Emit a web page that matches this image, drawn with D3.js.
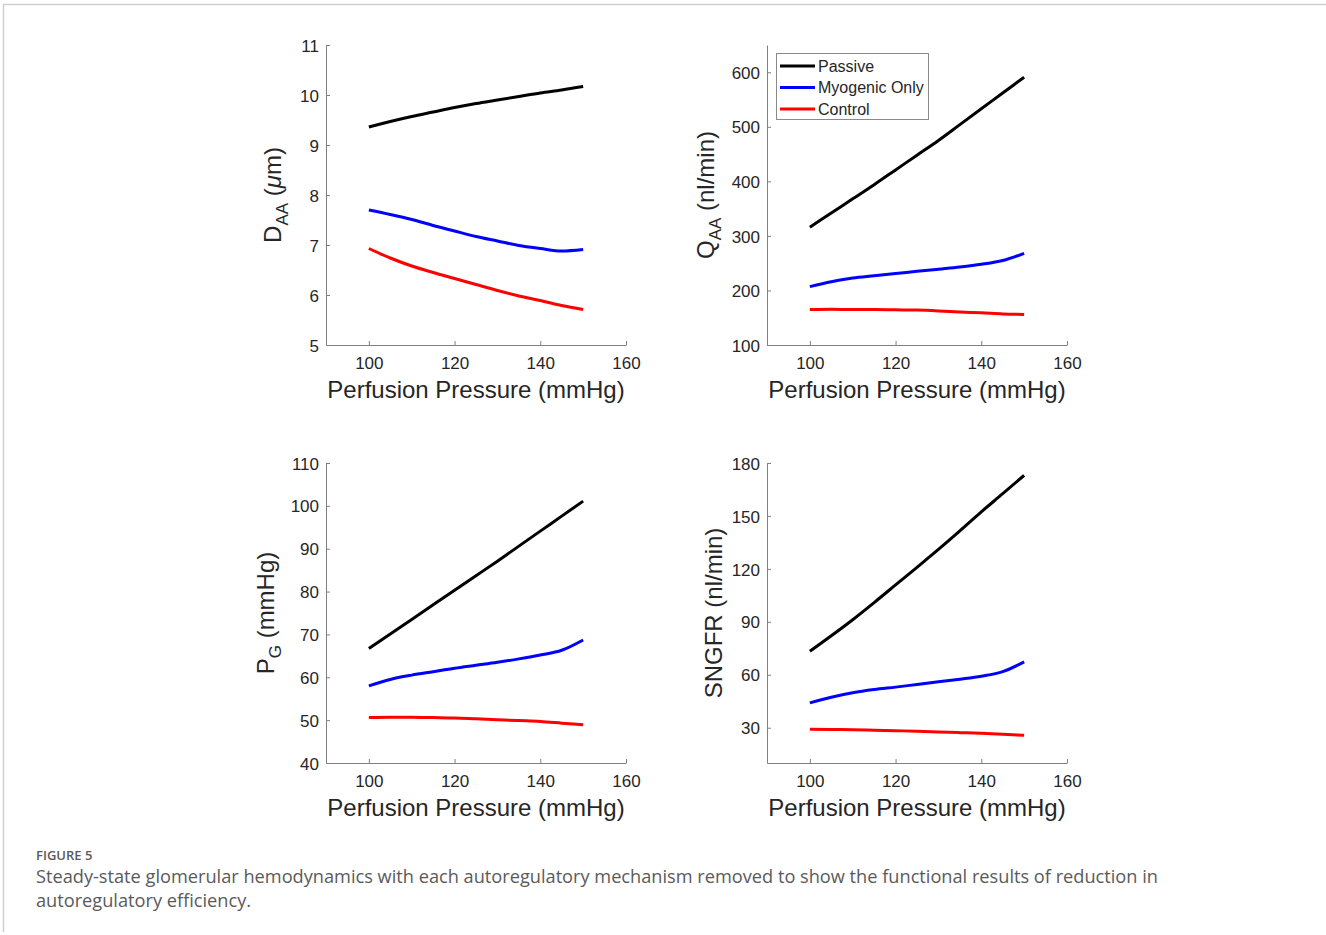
<!DOCTYPE html>
<html>
<head>
<meta charset="utf-8">
<script src="https://cdn.jsdelivr.net/npm/d3@7"></script>
<style>
    body { margin: 0; background: #fff; }
    svg { display: block; }
</style>
</head>
<body>
<div id="figure"></div>
<script>
(function () {
    // perfusion pressure (mmHg), shared x values
    var pressure = [100, 105, 110, 115, 120, 125, 130, 135, 140, 145, 150];

    var series_names = ["Passive", "Myogenic Only", "Control"];
    var series_colors = ["#000000", "#0000ff", "#ff0000"];

    // D_AA (um)
    var daa_passive = [9.36, 9.47, 9.57, 9.66, 9.75, 9.83, 9.90, 9.97, 10.04, 10.10, 10.17];
    var daa_myogenic = [7.70, 7.61, 7.51, 7.39, 7.28, 7.17, 7.08, 6.99, 6.93, 6.88, 6.91];
    var daa_control = [6.93, 6.74, 6.58, 6.45, 6.33, 6.21, 6.09, 5.98, 5.89, 5.79, 5.71];

    // Q_AA (nl/min)
    var qaa_passive = [316, 342, 368, 394, 421, 448, 475, 504, 533, 562, 591];
    var qaa_myogenic = [207, 216, 223, 227, 231, 235, 239, 243, 248, 255, 268];
    var qaa_control = [165, 165.5, 165, 165, 164.5, 164, 162.5, 160.5, 159, 157, 156];

    // P_G (mmHg)
    var pg_passive = [66.7, 70.1, 73.5, 76.9, 80.3, 83.7, 87.1, 90.6, 94.1, 97.6, 101.1];
    var pg_myogenic = [58.0, 59.5, 60.5, 61.3, 62.1, 62.8, 63.5, 64.3, 65.2, 66.3, 68.7];
    var pg_control = [50.6, 50.7, 50.7, 50.6, 50.5, 50.3, 50.1, 49.9, 49.7, 49.3, 48.9];

    // SNGFR (nl/min)
    var sngfr_passive = [73.3, 82.1, 91.2, 100.9, 110.9, 120.9, 131.0, 141.5, 152.3, 162.6, 173.0];
    var sngfr_myogenic = [44.1, 47.3, 49.8, 51.6, 53.0, 54.5, 56.0, 57.5, 59.2, 61.8, 67.3];
    var sngfr_control = [29.1, 29.0, 28.9, 28.6, 28.3, 28.0, 27.6, 27.2, 26.8, 26.3, 25.7];

    var x_domain = [90, 160];
    var x_ticks = [100, 120, 140, 160];

    var daa_ticks = [5, 6, 7, 8, 9, 10, 11];
    var qaa_ticks = [100, 200, 300, 400, 500, 600];
    var pg_ticks = [40, 50, 60, 70, 80, 90, 100, 110];
    var sngfr_ticks = [30, 60, 90, 120, 150, 180];

    var x_label = "Perfusion Pressure (mmHg)";
    var caption_title = "FIGURE 5";
    var caption_lines = [
        "Steady-state glomerular hemodynamics with each autoregulatory mechanism removed to show the functional results of reduction in",
        "autoregulatory efficiency."
    ];

    const width = 1326;
    const height = 935;
    const plot_size = 300;
    const font = "'Liberation Sans', Arial, Helvetica, sans-serif";
    const text_color = "#262626";
    const axis_color = "#808080";

    var panels = [
        { left: 326, top: 45, y_domain: [5, 11], y_ticks: daa_ticks,
          values: [daa_passive, daa_myogenic, daa_control],
          label: [["D", ""], ["AA", "sub"], [" (", ""], ["\u03bc", "it"], ["m)", ""]], label_dx: -45 },
        { left: 767, top: 45, y_domain: [100, 650], y_ticks: qaa_ticks,
          values: [qaa_passive, qaa_myogenic, qaa_control],
          label: [["Q", ""], ["AA", "sub"], [" (nl/min)", ""]], label_dx: -53, legend: true },
        { left: 326, top: 463, y_domain: [40, 110], y_ticks: pg_ticks,
          values: [pg_passive, pg_myogenic, pg_control],
          label: [["P", ""], ["G", "sub"], [" (mmHg)", ""]], label_dx: -52 },
        { left: 767, top: 463, y_domain: [10, 180], y_ticks: sngfr_ticks,
          values: [sngfr_passive, sngfr_myogenic, sngfr_control],
          label: [["SNGFR (nl/min)", ""]], label_dx: -45 }
    ];

    var svg = d3.select('#figure').append('svg')
        .attr('width', width)
        .attr('height', height);

    // thin page frame, top and left
    svg.append('line')
        .attr('x1', 3).attr('x2', width)
        .attr('y1', 4.5).attr('y2', 4.5)
        .attr('stroke', '#cfcfcf').attr('stroke-width', 1.5);
    svg.append('line')
        .attr('x1', 3.5).attr('x2', 3.5)
        .attr('y1', 4).attr('y2', 932)
        .attr('stroke', '#cfcfcf').attr('stroke-width', 1.5);

    panels.forEach(function (p) {
        drawPanel(p);
    });

    drawCaption();

    function drawPanel(p) {
        var g = svg.append('g')
            .attr('transform', `translate(${p.left},${p.top})`);

        var x_scale = d3.scaleLinear().domain(x_domain).range([0, plot_size]);
        var y_scale = d3.scaleLinear().domain(p.y_domain).range([plot_size, 0]);

        // inward ticks like matlab
        var x_axis = d3.axisBottom(x_scale)
            .tickValues(x_ticks)
            .tickSizeInner(-4)
            .tickSizeOuter(0)
            .tickPadding(12)
            .tickFormat(d3.format('d'));
        var y_axis = d3.axisLeft(y_scale)
            .tickValues(p.y_ticks)
            .tickSizeInner(-4)
            .tickSizeOuter(0)
            .tickPadding(7)
            .tickFormat(d3.format('d'));

        var xg = g.append('g')
            .attr('transform', `translate(0,${plot_size})`)
            .call(x_axis);
        var yg = g.append('g').call(y_axis);

        [xg, yg].forEach(function (a) {
            a.attr('font-family', font).attr('font-size', 17);
            a.select('.domain').attr('stroke', axis_color);
            a.selectAll('.tick line').attr('stroke', axis_color);
            a.selectAll('.tick text')
                .attr('fill', text_color);
        });
        yg.selectAll('.tick text').attr('dy', '0.36em');

        var line = d3.line()
            .x(function (d) { return x_scale(d[0]); })
            .y(function (d) { return y_scale(d[1]); })
            .curve(d3.curveMonotoneX);

        p.values.forEach(function (vals, i) {
            var pts = pressure.map(function (x, j) { return [x, vals[j]]; });
            g.append('path')
                .datum(pts)
                .attr('fill', 'none')
                .attr('stroke', series_colors[i])
                .attr('stroke-width', 3)
                .attr('stroke-linejoin', 'round')
                .attr('d', line);
        });

        // x label
        g.append('text')
            .attr('x', plot_size / 2)
            .attr('y', plot_size + 53)
            .attr('text-anchor', 'middle')
            .attr('fill', text_color)
            .style('font-family', font)
            .style('font-size', '24px')
            .text(x_label);

        // y label with subscripts
        var yl = g.append('text')
            .attr('transform', `translate(${p.label_dx},${plot_size / 2}) rotate(-90)`)
            .attr('text-anchor', 'middle')
            .attr('fill', text_color)
            .style('font-family', font)
            .style('font-size', '24px');

        var shifted = false;
        p.label.forEach(function (part) {
            var ts = yl.append('tspan').text(part[0]);
            if (part[1] == 'sub') {
                ts.attr('dy', 7).style('font-size', '17px');
                shifted = true;
            } else if (shifted) {
                ts.attr('dy', -7);
                shifted = false;
            }
            if (part[1] == 'it') {
                ts.style('font-style', 'italic');
            }
        });

        if (p.legend) {
            drawLegend(g);
        }
    }

    function drawLegend(g) {
        var lx = 9, ly = 8;
        var legend = g.append('g')
            .attr('transform', `translate(${lx},${ly})`);

        legend.append('rect')
            .attr('x', 0.5)
            .attr('y', 0.5)
            .attr('width', 152)
            .attr('height', 66)
            .attr('fill', '#fff')
            .attr('stroke', '#8a8a8a');

        var rows = legend.selectAll('.legend-row').data(series_names)
            .enter().append('g')
            .attr('class', 'legend-row')
            .attr('transform', function (d, i) {
                return `translate(0,${13 + i * 21.5})`;
            });

        rows.append('line')
            .attr('x1', 4).attr('x2', 39)
            .attr('y1', 0).attr('y2', 0)
            .attr('stroke-width', 3)
            .attr('stroke', function (d, i) { return series_colors[i]; });

        rows.append('text')
            .attr('x', 42)
            .attr('y', 0)
            .attr('dy', '0.36em')
            .attr('fill', text_color)
            .style('font-family', font)
            .style('font-size', '16px')
            .text(function (d) { return d; });
    }

    function drawCaption() {
        var cap_font = "'Open Sans', 'Noto Sans', sans-serif";
        svg.append('text')
            .attr('x', 36)
            .attr('y', 860)
            .attr('fill', '#5a5a5a')
            .style('font-family', cap_font)
            .style('font-size', '13px')
            .style('font-weight', 600)
            .text(caption_title);

        svg.selectAll('.caption-line').data(caption_lines)
            .enter().append('text')
            .attr('class', 'caption-line')
            .attr('x', 36)
            .attr('y', function (d, i) { return 883 + i * 24; })
            .attr('fill', '#5a5a5a')
            .style('font-family', cap_font)
            .style('font-size', '18.2px')
            .text(function (d) { return d; });
    }
})();
</script>
</body>
</html>
